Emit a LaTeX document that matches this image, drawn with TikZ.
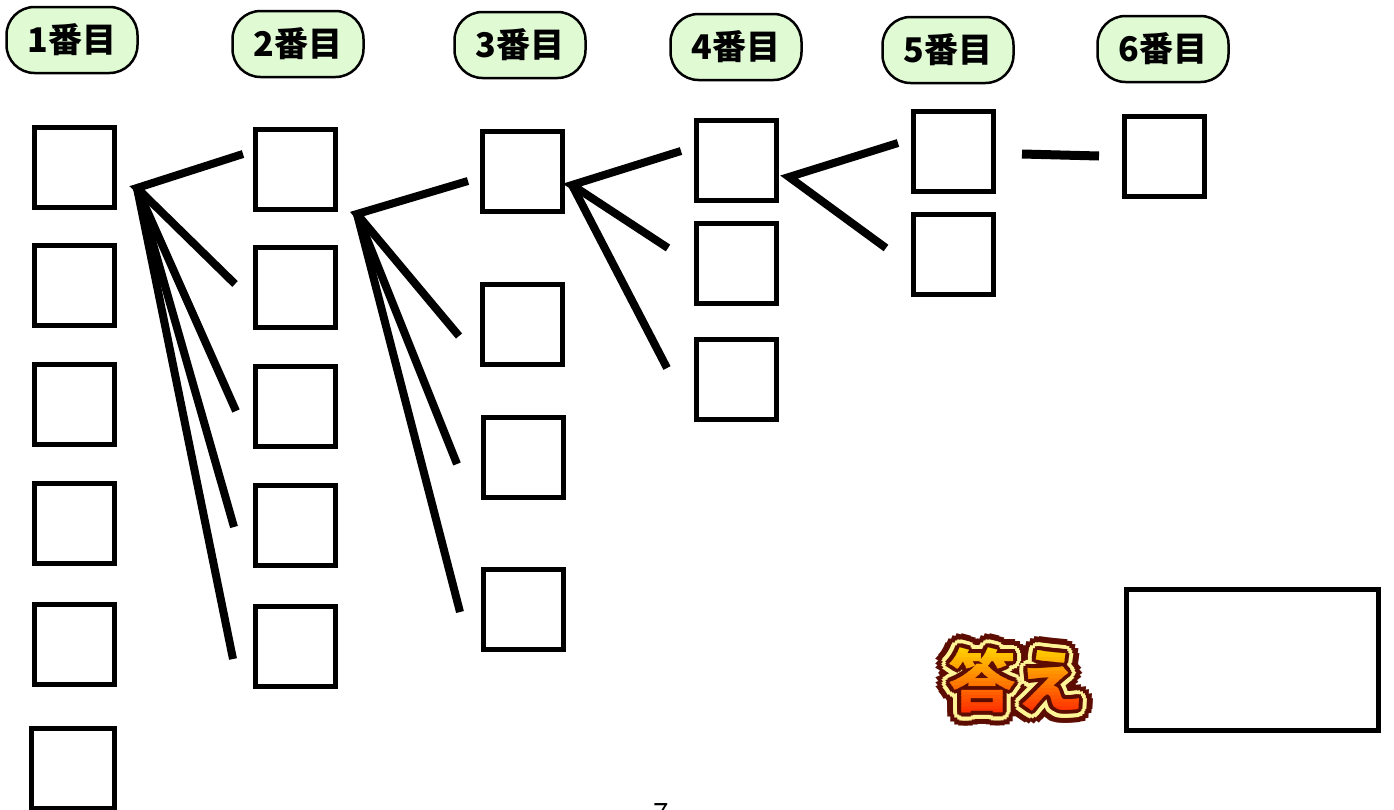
\documentclass[tikz,border=0pt]{standalone}
\usepackage{fontspec}
\newfontfamily\jpfont{Noto Sans CJK JP}
\usetikzlibrary{calc}
\definecolor{labelgreen}{RGB}{224,250,212}
\definecolor{halobrown}{RGB}{92,12,0}
\definecolor{haloyellow}{RGB}{255,244,150}
\definecolor{kotaetop}{RGB}{255,238,0}
\definecolor{kotaebot}{RGB}{255,30,0}

\tikzset{
  orderlabel/.style={draw, line width=2.5pt, fill=labelgreen, rounded corners=28pt,
    minimum width=131pt, minimum height=66pt, inner sep=0pt,
    font=\jpfont\bfseries\fontsize{34pt}{34pt}\selectfont},
  blank/.style={draw, line width=5pt, minimum size=80pt, inner sep=0pt},
  wideblank/.style={draw, line width=5pt, minimum width=252pt, minimum height=141pt, inner sep=0pt},
  branch/.style={line width=8pt, line join=miter},
  kotaetext/.style={inner sep=0pt, font=\jpfont\bfseries\fontsize{68pt}{68pt}\selectfont},
}

\begin{document}
\begin{tikzpicture}[x=1pt, y=-1pt]
\useasboundingbox (0,0) rectangle (1394,809);
\clip (0,0) rectangle (1394,809);

% column headings
\node[orderlabel] (h1) at (72,40) {1番目};
\node[orderlabel] (h2) at (298,44) {2番目};
\node[orderlabel] (h3) at (520,45) {3番目};
\node[orderlabel] (h4) at (736,47) {4番目};
\node[orderlabel] (h5) at (948,50) {5番目};
\node[orderlabel] (h6) at (1163,49) {6番目};

% blank boxes, column 1
\node[blank] (a1) at (74.5,167.5) {};
\node[blank] (a2) at (74.5,285.5) {};
\node[blank] (a3) at (74.5,404.5) {};
\node[blank] (a4) at (74.5,523.5) {};
\node[blank] (a5) at (74.5,644.5) {};
\node[blank, minimum width=83pt] (a6) at (73,768.5) {};
% column 2
\node[blank] (b1) at (295.5,169.5) {};
\node[blank] (b2) at (295.5,287.5) {};
\node[blank] (b3) at (295.5,406.5) {};
\node[blank] (b4) at (295.5,525.5) {};
\node[blank] (b5) at (295.5,646.5) {};
% column 3
\node[blank] (c1) at (522.5,171.5) {};
\node[blank] (c2) at (522.5,324.5) {};
\node[blank] (c3) at (523.5,457.5) {};
\node[blank] (c4) at (523.5,609.5) {};
% column 4
\node[blank] (d1) at (736.5,160.5) {};
\node[blank] (d2) at (736.5,263) {};
\node[blank] (d3) at (736.5,379.5) {};
% column 5
\node[blank] (e1) at (953.5,151) {};
\node[blank] (e2) at (953.5,254.5) {};
% column 6
\node[blank] (g1) at (1164.5,156.5) {};

% answer box
\node[wideblank] (ans) at (1252.5,660) {};

% branch points and branch ends
\coordinate (f1) at (137,188);
\coordinate (f1a) at (243,154);
\coordinate (f1b) at (235,284);
\coordinate (f1c) at (236,411);
\coordinate (f1d) at (234,527);
\coordinate (f1e) at (233,659);

\coordinate (f2) at (357,214);
\coordinate (f2a) at (468,181);
\coordinate (f2b) at (459,336);
\coordinate (f2c) at (457,464);
\coordinate (f2d) at (460,612);

\coordinate (f3) at (572,185);
\coordinate (f3a) at (681,151);
\coordinate (f3b) at (668,248);
\coordinate (f3c) at (667,368);

\coordinate (f4) at (789,177);
\coordinate (f4a) at (898,143);
\coordinate (f4b) at (886,248);

\coordinate (f5a) at (1022,154);
\coordinate (f5b) at (1099,156);

\draw[branch] (f1a) -- (f1) -- (f1b);
\draw[branch] (f1) -- (f1c);
\draw[branch] (f1) -- (f1d);
\draw[branch] (f1) -- (f1e);

\draw[branch] (f2a) -- (f2) -- (f2b);
\draw[branch] (f2) -- (f2c);
\draw[branch] (f2) -- (f2d);

\draw[branch] (f3a) -- (f3) -- (f3b);
\draw[branch] (f3) -- (f3c);

\draw[branch] (f4a) -- (f4) -- (f4b);

\draw[line width=9pt] (f5a) -- (f5b);

% answer badge: layered outlines, then a banded yellow-to-red fill
\coordinate (kotae) at (1016,680);
\foreach \r in {14,11} {
  \foreach \a in {0,20,...,340} {
    \node[kotaetext, text=halobrown] at ($(kotae)+(\a:\r)$) {答え};
  }
}
\foreach \r in {8} {
  \foreach \a in {0,20,...,340} {
    \node[kotaetext, text=haloyellow] at ($(kotae)+(\a:\r)$) {答え};
  }
}
\foreach \r in {4} {
  \foreach \a in {0,30,...,330} {
    \node[kotaetext, text=halobrown] at ($(kotae)+(\a:\r)$) {答え};
  }
}
\foreach \i in {0,...,23} {
  \pgfmathsetmacro\p{100*\i/23}
  \begin{scope}
    \clip (940,{636+3.5*\i}) rectangle (1095,{636+3.5*(\i+1)+0.3});
    \node[kotaetext, text=kotaebot!\p!kotaetop] at (kotae) {答え};
  \end{scope}
}

% page number, running off the bottom edge
\node[anchor=north, inner sep=0pt, font=\jpfont\fontsize{28pt}{28pt}\selectfont] (pg) at (661,803) {7};
\end{tikzpicture}
\end{document}
